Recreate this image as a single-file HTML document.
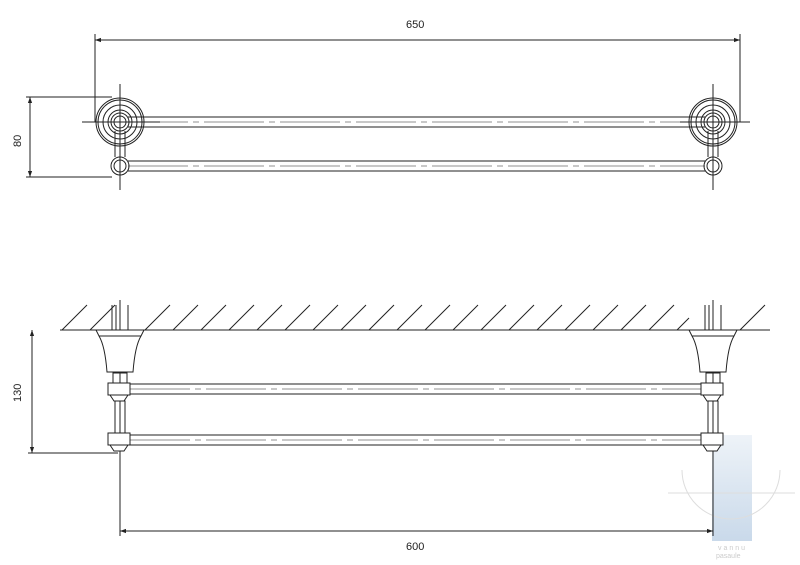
<!DOCTYPE html>
<html><head><style>body{margin:0;background:#fff}svg{display:block}text{font-family:"Liberation Sans",sans-serif;font-size:11px;fill:#222}</style></head><body>
<svg width="800" height="565" viewBox="0 0 800 565">
<defs>
<linearGradient id="wm" x1="0" y1="0" x2="0" y2="1"><stop offset="0" stop-color="#eef3f8"/><stop offset="1" stop-color="#c9d9ea"/></linearGradient>
<marker id="a" viewBox="0 0 10 10" refX="10" refY="5" markerWidth="9" markerHeight="6" orient="auto-start-reverse"><path d="M0,1.5L10,5L0,8.5z" fill="#222"/></marker>
</defs>
<rect x="712" y="435" width="40" height="106" fill="url(#wm)"/>
<g stroke="#ddd" fill="none"><path d="M682,470 A45,45 0 0 0 780,470"/><line x1="668" y1="493" x2="795" y2="493"/></g>
<text x="718" y="550" style="font-size:7px;fill:#ccc;letter-spacing:2px">vannu</text>
<text x="716" y="558" style="font-size:7px;fill:#ccc">pasaule</text>
<g stroke="#222" fill="none" stroke-width="1">
<!-- 650 -->
<line x1="95" y1="40" x2="740" y2="40" marker-start="url(#a)" marker-end="url(#a)"/>
<line x1="95" y1="34" x2="95" y2="122"/><line x1="740" y1="34" x2="740" y2="122"/>
<!-- 80 -->
<line x1="30" y1="97" x2="30" y2="177" marker-start="url(#a)" marker-end="url(#a)"/>
<line x1="26" y1="97" x2="112" y2="97"/><line x1="26" y1="177" x2="112" y2="177"/>
<line x1="82" y1="122" x2="160" y2="122"/><line x1="120" y1="84" x2="120" y2="190"/>
<line x1="713" y1="84" x2="713" y2="190"/><line x1="680" y1="122" x2="750" y2="122"/>
<!-- bars top -->
<line x1="128" y1="117" x2="705" y2="117"/><line x1="128" y1="127" x2="705" y2="127"/>
<line x1="128" y1="122" x2="705" y2="122" stroke-dasharray="60 5 6 5" stroke-width=".6"/>
<line x1="128" y1="161" x2="705" y2="161"/><line x1="128" y1="171" x2="705" y2="171"/>
<line x1="128" y1="166" x2="705" y2="166" stroke-dasharray="60 5 6 5" stroke-width=".6"/>
<g id="ros">
<circle cx="120" cy="122" r="24"/><circle cx="120" cy="122" r="22"/><circle cx="120" cy="122" r="17"/><circle cx="120" cy="122" r="12"/>
<circle cx="120" cy="122" r="9"/><circle cx="120" cy="122" r="6"/>
<circle cx="120" cy="166" r="9"/><circle cx="120" cy="166" r="6"/>
<line x1="115" y1="131" x2="115" y2="157"/><line x1="125" y1="131" x2="125" y2="157"/>
</g>
<use href="#ros" transform="translate(593,0)"/>
<!-- side view -->
<line x1="60" y1="330" x2="770" y2="330"/>
<path d="M62,330l25,-25M90,330l25,-25M145,330l25,-25M173,330l25,-25M201,330l25,-25M229,330l25,-25M257,330l25,-25M285,330l25,-25M313,330l25,-25M341,330l25,-25M369,330l25,-25M397,330l25,-25M425,330l25,-25M453,330l25,-25M481,330l25,-25M509,330l25,-25M537,330l25,-25M565,330l25,-25M593,330l25,-25M621,330l25,-25M649,330l25,-25M677,330l12,-12M740,330l25,-25"/>
<!-- 130 -->
<line x1="32" y1="330" x2="32" y2="453" marker-start="url(#a)" marker-end="url(#a)"/>
<line x1="28" y1="453" x2="118" y2="453"/>
<!-- 600 -->
<line x1="120" y1="531" x2="713" y2="531" marker-start="url(#a)" marker-end="url(#a)"/>
<line x1="120" y1="455" x2="120" y2="536"/><line x1="713" y1="455" x2="713" y2="536"/>
<line x1="130" y1="384" x2="705" y2="384"/><line x1="130" y1="394" x2="705" y2="394"/>
<line x1="130" y1="389" x2="705" y2="389" stroke-dasharray="60 5 6 5" stroke-width=".6"/>
<line x1="130" y1="435" x2="705" y2="435"/><line x1="130" y1="445" x2="705" y2="445"/>
<line x1="130" y1="440" x2="705" y2="440" stroke-dasharray="60 5 6 5" stroke-width=".6"/>
<g id="side">
<line x1="112" y1="305" x2="112" y2="330"/><line x1="116" y1="305" x2="116" y2="330"/><line x1="128" y1="305" x2="128" y2="330"/>
<line x1="120" y1="300" x2="120" y2="465"/>
<path d="M96,330h48l-3,6h-42zM99,336q6,10 8,36h26q2,-26 8,-36" fill="#fff"/>
<line x1="107" y1="372" x2="133" y2="372"/>
<rect x="113" y="373" width="14" height="10"/>
<path d="M108,383h22v12h-22zM110,395h18l-4,6h-10z" fill="#fff"/>
<rect x="115" y="401" width="10" height="32"/>
<path d="M108,433h22v12h-22zM110,445h18l-4,6h-10z" fill="#fff"/>
</g>
<use href="#side" transform="translate(593,0)"/>
</g>
<text x="406" y="28">650</text>
<text x="406" y="550">600</text>
<text transform="translate(21,147) rotate(-90)">80</text>
<text transform="translate(21,402) rotate(-90)">130</text>
</svg>
</body></html>
